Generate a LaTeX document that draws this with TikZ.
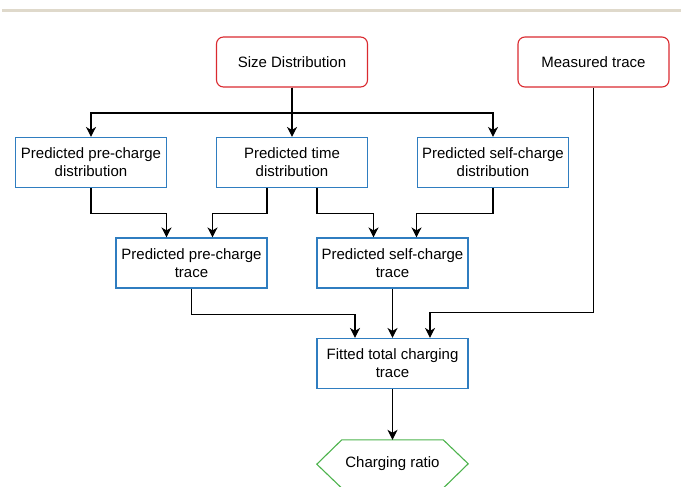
\documentclass[tikz,border=0pt]{standalone}
\usepackage{fontspec}
\setmainfont{Liberation Sans}
\usetikzlibrary{arrows.meta}
\definecolor{inred}{HTML}{DA2A2F}
\definecolor{stepblue}{HTML}{2F7DC0}
\definecolor{outgreen}{HTML}{4DB34D}
\definecolor{barbeige}{HTML}{DFD9CB}
\tikzset{
  stepbox/.style={draw=stepblue,line width=1.1pt,minimum width=151pt,minimum height=50pt,align=center,inner sep=2pt},
  inbox/.style={stepbox,draw=inred,rounded corners=7pt},
  arr/.style={-{Stealth[length=10pt,width=10pt,inset=3pt]},line width=1.1pt},
}
\begin{document}
\begin{tikzpicture}[x=1pt,y=1pt,font=\fontsize{15}{18}\selectfont]
\def\gs{100.5}
\def\hx{91}
\def\hy{62}
\useasboundingbox (0,0) rectangle (681,-487);
\clip (0,0) rectangle (681,-487);
\fill[barbeige] (2,-9) rectangle (681,-12.5);

% inputs
\node[inbox] (size) at (\hx+2*\gs,-\hy) {Size Distribution};
\node[inbox] (meas) at (\hx+5*\gs,-\hy) {Measured trace};

% predicted distributions
\node[stepbox] (pdist) at (\hx,-\hy-\gs) {Predicted pre-charge\\distribution};
\node[stepbox] (tdist) at (\hx+2*\gs,-\hy-\gs) {Predicted time\\distribution};
\node[stepbox] (sdist) at (\hx+4*\gs,-\hy-\gs) {Predicted self-charge\\distribution};

% predicted traces
\node[stepbox] (ptrace) at (\hx+\gs,-\hy-2*\gs) {Predicted pre-charge\\trace};
\node[stepbox] (strace) at (\hx+3*\gs,-\hy-2*\gs) {Predicted self-charge\\trace};

% fit and result
\node[stepbox] (fit) at (\hx+3*\gs,-\hy-3*\gs) {Fitted total charging\\trace};
\node[minimum width=101pt,minimum height=48pt] (ratio) at (\hx+3*\gs,-\hy-4*\gs) {Charging ratio};
\draw[outgreen,line width=1.1pt] (ratio.north west) -- (ratio.north east) -- ++(25,-24) -- (ratio.south east) -- (ratio.south west) -- ++(-25,24) -- cycle;

\draw[arr] (size.south) -- ++(0,-25.5) -| (pdist.north);
\draw[arr] (size.south) -- (tdist.north);
\draw[arr] (size.south) -- ++(0,-25.5) -| (sdist.north);

\draw[arr] (pdist.south) -- ++(0,-25.5) -| ([xshift=-25pt]ptrace.north);
\draw[arr] ([xshift=-25pt]tdist.south) -- ++(0,-25.5) -| ([xshift=21pt]ptrace.north);
\draw[arr] ([xshift=25pt]tdist.south) -- ++(0,-25.5) -| ([xshift=-19pt]strace.north);
\draw[arr] (sdist.south) -- ++(0,-25.5) -| ([xshift=24pt]strace.north);

\draw[arr] (ptrace.south) -- ++(0,-25.5) -| ([xshift=-37.5pt]fit.north);
\draw[arr] (strace.south) -- (fit.north);
\draw[arr] (meas.south) |- ([xshift=37.5pt,yshift=25.5pt]fit.north) -- ([xshift=37.5pt]fit.north);

\draw[arr] (fit.south) -- (ratio.north);
\end{tikzpicture}
\end{document}
